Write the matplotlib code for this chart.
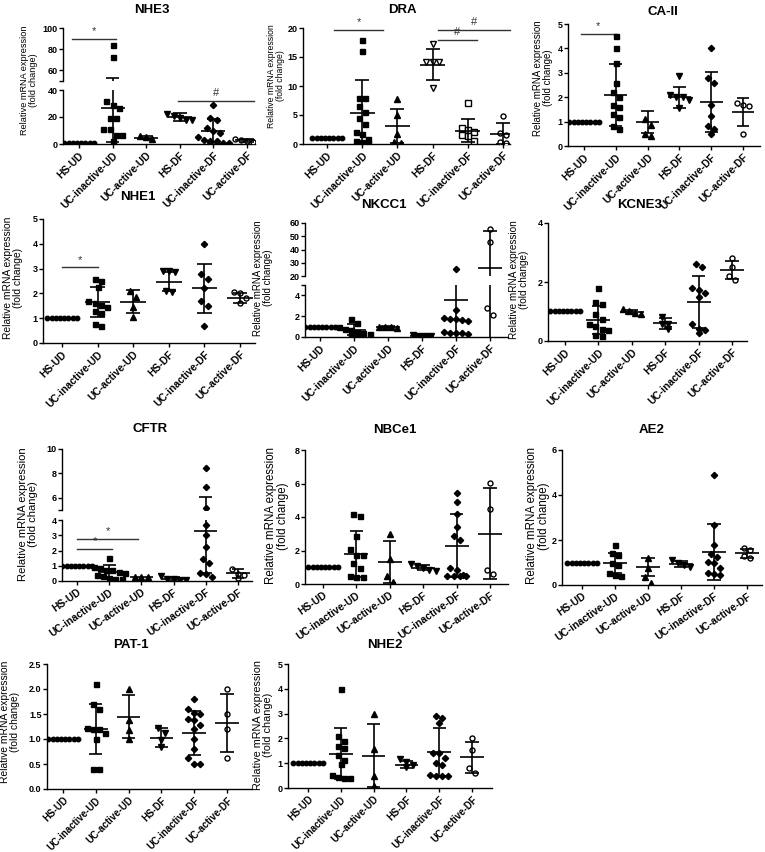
import numpy as np
import matplotlib.pyplot as plt

plt.rcParams['font.family'] = ['Liberation Sans', 'DejaVu Sans']

groups = ['HS-UD', 'UC-inactive-UD', 'UC-active-UD', 'HS-DF', 'UC-inactive-DF', 'UC-active-DF']

# --- data ---
nhe3_pts = [[1] * 8,
            [84, 73, 32, 29, 27, 19, 19, 11, 11, 7, 7, 2],
            [6, 5, 3.5],
            [22, 19.5, 18, 18, 21],
            [29, 19, 18, 12, 10, 8, 5, 3, 2, 1, 1, 2],
            [4, 3, 2.5, 1.5, 1]]
nhe3_mean = [1, 27, 4.8, 20, 9.5, 2.8]
nhe3_sd = [0, 25.7, 1.3, 3, 9, 1.2]

dra_pts = [[1] * 8,
           [18, 16, 8, 8, 6.5, 5.5, 4.5, 3.5, 2, 1.7, 0.8, 0.5, 0.3, 0.2],
           [7.8, 5, 1.7, 0.2, 0.3],
           [17.2, 14.2, 14.2, 14.2, 9.7],
           [7.1, 2.8, 2.4, 2.0, 1.5, 1.3, 0.5],
           [4.8, 1.9, 1.6, 0.3, 0.2]]
dra_mean = [1, 5.4, 3.1, 13.7, 2.3, 1.8]
dra_sd = [0, 5.6, 3.0, 2.6, 2.0, 1.8]

caii_pts = [[1] * 8,
            [4.5, 4.0, 3.4, 2.6, 2.2, 2.0, 1.7, 1.6, 1.3, 1.2, 0.8, 0.7],
            [1.1, 0.85, 0.5, 0.4],
            [2.85, 2.1, 2.0, 2.0, 1.9, 1.55],
            [4.0, 2.8, 2.6, 1.7, 1.25, 0.8, 0.7, 0.5],
            [1.7, 1.65, 1.75, 0.5]]
caii_mean = [1, 2.1, 1.0, 2.0, 1.8, 1.38]
caii_sd = [0, 1.27, 0.45, 0.43, 1.22, 0.58]

nhe1_pts = [[1] * 8,
            [2.6, 2.5, 2.25, 1.7, 1.6, 1.55, 1.45, 1.3, 1.2, 0.75, 0.68],
            [2.1, 1.85, 1.45, 1.05],
            [2.9, 2.9, 2.85, 2.1, 2.05],
            [4.0, 2.8, 2.6, 2.2, 1.7, 1.5, 0.7],
            [2.05, 2.0, 1.8, 1.6]]
nhe1_mean = [1, 1.65, 1.67, 2.47, 2.2, 1.83]
nhe1_sd = [0, 0.62, 0.47, 0.38, 1.0, 0.2]

nkcc1_pts = [[1] * 8,
             [1.75, 1.3, 0.95, 0.8, 0.65, 0.5, 0.4, 0.3, 0.15, 0.1],
             [1.0, 0.95, 0.85, 1.0],
             [0.1, 0.05, 0.15, 0.08],
             [25.3, 2.6, 1.8, 1.7, 1.6, 1.7, 1.5, 0.5, 0.4, 0.35, 0.4, 0.3],
             [55.4, 45.3, 2.15, 2.8]]
nkcc1_mean = [1, 0.72, 0.95, 0.1, 3.6, 26.3]
nkcc1_sd = [0, 0.5, 0.07, 0.05, 6.8, 27.9]

kcne3_pts = [[1] * 8,
             [1.8, 1.32, 1.27, 0.93, 0.76, 0.59, 0.5, 0.42, 0.36, 0.19, 0.16],
             [1.07, 1.0, 0.95, 0.9],
             [0.81, 0.59, 0.56, 0.42],
             [2.6, 2.5, 1.8, 1.72, 1.63, 1.5, 0.59, 0.42, 0.38, 0.27],
             [2.82, 2.5, 2.22, 2.08]]
kcne3_mean = [1, 0.7, 0.98, 0.6, 1.32, 2.4]
kcne3_sd = [0, 0.47, 0.07, 0.18, 0.87, 0.31]

cftr_pts = [[1] * 8,
            [1.5, 0.95, 0.85, 0.75, 0.7, 0.6, 0.5, 0.4, 0.3, 0.2, 0.15, 0.1],
            [0.28, 0.28, 0.28],
            [0.3, 0.15, 0.05, 0.1, 0.08],
            [8.46, 6.92, 5.2, 3.69, 3.0, 2.25, 1.42, 1.16, 0.5, 0.28, 0.46],
            [0.77, 0.45, 0.4, 0.22]]
cftr_mean = [1, 0.57, 0.28, 0.13, 3.28, 0.5]
cftr_sd = [0, 0.45, 0.0, 0.15, 2.76, 0.28]

nbce1_pts = [[1] * 8,
             [4.19, 4.03, 2.84, 2.1, 1.75, 1.75, 1.25, 0.95, 0.46, 0.4, 0.4],
             [3.0, 1.49, 0.46, 0.1],
             [1.2, 1.05, 0.95, 0.85, 0.8],
             [5.42, 4.88, 4.19, 3.39, 2.84, 2.6, 0.95, 0.85, 0.55, 0.5, 0.45, 0.45, 0.5],
             [6.01, 4.48, 0.62, 0.81]]
nbce1_mean = [1, 1.8, 1.31, 0.98, 2.28, 3.0]
nbce1_sd = [0, 1.37, 1.27, 0.15, 1.89, 2.71]

ae2_pts = [[1] * 8,
           [1.78, 1.41, 1.33, 1.0, 0.89, 0.52, 0.44, 0.4],
           [1.19, 0.74, 0.37, 0.1],
           [1.11, 1.0, 0.89, 0.81],
           [4.89, 2.67, 1.78, 1.38, 1.26, 1.01, 1.0, 0.74, 0.52, 0.47, 0.44],
           [1.63, 1.55, 1.29, 1.19]]
ae2_mean = [1, 0.99, 0.8, 0.93, 1.47, 1.41]
ae2_sd = [0, 0.45, 0.41, 0.12, 1.24, 0.19]

pat1_pts = [[1] * 8,
            [2.1, 1.7, 1.6, 1.22, 1.2, 1.2, 1.12, 1.0, 0.4, 0.4],
            [2.0, 1.38, 1.18, 1.0],
            [1.22, 1.13, 0.98, 0.84],
            [1.8, 1.6, 1.52, 1.5, 1.4, 1.38, 1.28, 1.2, 1.0, 0.8, 0.62, 0.5, 0.5],
            [2.0, 1.5, 1.2, 0.62]]
pat1_mean = [1, 1.2, 1.45, 1.03, 1.13, 1.33]
pat1_sd = [0, 0.5, 0.43, 0.19, 0.44, 0.58]

nhe2_pts = [[1] * 8,
            [3.98, 2.08, 1.88, 1.68, 1.6, 1.34, 1.11, 0.98, 0.54, 0.44, 0.4, 0.4],
            [2.99, 1.57, 0.5, 0.07],
            [1.17, 1.03, 0.94, 0.83],
            [2.91, 2.82, 2.61, 1.41, 1.41, 1.21, 1.0, 0.94, 0.54, 0.5, 0.5, 0.5],
            [2.01, 1.54, 0.8, 0.6]]
nhe2_mean = [1, 1.38, 1.31, 0.94, 1.45, 1.23]
nhe2_sd = [0, 1.03, 1.26, 0.15, 0.96, 0.64]

# significance bars: (symbol, x from, x to, y)
nhe3_sig = [('*', -0.2, 1.1, 90), ('#', 2.95, 5.2, 32)]
dra_sig = [('*', 0.2, 1.6, 19.7), ('#', 3.15, 4.26, 17.9), ('#', 3.15, 5.2, 19.7)]
caii_sig = [('*', -0.1, 1.0, 4.6)]
nhe1_sig = [('*', 0, 1.0, 3.05)]
cftr_sig = [('*', 0, 1.1, 2.08), ('*', 0, 1.9, 2.78)]

# --- layout in pixels ---
W, H = 765, 852
std_marks = [('o', True), ('s', True), ('^', True), ('v', True), ('D', True), ('o', False)]
dra_marks = [('o', True), ('s', True), ('^', True), ('v', False), ('s', False), ('o', False)]

panels = [
    # title, pts, mean, sd, sig, markers, left, right, c0, c5,
    # segments (ymin, ymax, top, bottom, ticks, labels), title xy, ylabel (x, y, size),
    # xlabel rotation, xlabel size
    ('NHE3', nhe3_pts, nhe3_mean, nhe3_sd, nhe3_sig, std_marks, 63, 255, 79, 247,
     [(0, 40, 90, 144, [0, 20, 40], ['0', '20', '40']),
      (50, 100, 28, 81, [50, 60, 80, 100], ['', '60', '80', '100'])], (152, 10), (29, 80, 6.6), 45, 7.4),
    ('DRA', dra_pts, dra_mean, dra_sd, dra_sig, dra_marks, 303, 510, 327, 503,
     [(0, 20, 28, 144, [0, 5, 10, 15, 20], None)], (402, 10), (276, 76, 6.2), 45, 7.4),
    ('CA-II', caii_pts, caii_mean, caii_sd, caii_sig, std_marks, 568, 760, 584, 743,
     [(0, 5, 24, 146, [0, 1, 2, 3, 4, 5], None)], (663, 12), (543, 78, 7.0), 45, 7.4),
    ('NHE1', nhe1_pts, nhe1_mean, nhe1_sd, nhe1_sig, std_marks, 43, 255, 62, 240,
     [(0, 5, 219, 343, [0, 1, 2, 3, 4, 5], None)], (138, 197), (13, 278, 7.4), 45, 7.4),
    ('NKCC1', nkcc1_pts, nkcc1_mean, nkcc1_sd, [], std_marks, 305, 508, 320, 490,
     [(0, 5, 285, 337, [0, 2, 4, 5], ['0', '2', '4', '']),
      (20, 60, 223, 276, [20, 30, 40, 50, 60], None)], (384, 205), (263, 278, 7.0), 45, 7.4),
    ('KCNE3', kcne3_pts, kcne3_mean, kcne3_sd, [], std_marks, 548, 747, 565, 732,
     [(0, 4, 223, 341, [0, 2, 4], None)], (640, 205), (519, 280, 7.2), 45, 7.4),
    ('CFTR', cftr_pts, cftr_mean, cftr_sd, cftr_sig, std_marks, 62, 252, 77, 238,
     [(0, 4, 520, 581, [0, 1, 2, 3, 4], None),
      (5, 10, 449, 510, [5, 6, 8, 10], ['', '6', '8', '10'])], (150, 429), (28, 514, 8.1), 35, 7.4),
    ('NBCe1', nbce1_pts, nbce1_mean, nbce1_sd, [], std_marks, 305, 508, 323, 490,
     [(0, 8, 450, 584, [0, 2, 4, 6, 8], None)], (395, 430), (277, 516, 8.3), 35, 7.4),
    ('AE2', ae2_pts, ae2_mean, ae2_sd, [], std_marks, 562, 762, 582, 747,
     [(0, 6, 450, 585, [0, 2, 4, 6], None)], (652, 430), (538, 516, 8.3), 35, 7.4),
    ('PAT-1', pat1_pts, pat1_mean, pat1_sd, [], std_marks, 47, 252, 63, 227,
     [(0, 2.5, 664, 789, [0, 0.5, 1.0, 1.5, 2.0, 2.5],
       ['0.0', '0.5', '1.0', '1.5', '2.0', '2.5'])], (131, 645), (10, 722, 7.4), 45, 6.9),
    ('NHE2', nhe2_pts, nhe2_mean, nhe2_sd, [], std_marks, 288, 492, 308, 472,
     [(0, 5, 664, 788, [0, 1, 2, 3, 4, 5], None)], (385, 645), (263, 725, 7.8), 45, 6.9),
]


def val_px(v, segs):
    for (y0, y1, top, bot, _, _) in segs:
        if y0 <= v <= y1:
            return bot - (v - y0) / (y1 - y0) * (bot - top)
    y0, y1, top, bot = segs[0][:4]
    return bot - (v - y0) / (y1 - y0) * (bot - top)


def swarm(vals, segs, d, thr):
    # spread points that sit at nearly the same height, centred on the column
    ys = np.array([val_px(v, segs) for v in vals])
    order = np.argsort(ys)
    offs = np.zeros(len(vals))
    rows, cur = [], [order[0]]
    for i in order[1:]:
        if ys[i] - ys[cur[0]] < thr:
            cur.append(i)
        else:
            rows.append(cur)
            cur = [i]
    rows.append(cur)
    for r in rows:
        n = len(r)
        for k, i in enumerate(r):
            offs[i] = (k - (n - 1) / 2) * d
    return offs


fig = plt.figure(figsize=(W / 100, H / 100), dpi=100)

for (title, pts, mean, sd, sig, marks, left, right, c0, c5, segs, txy, ylab, rot, xfs) in panels:
    sp = (c5 - c0) / 5.0
    xlim = ((left - c0) / sp, (right - c0) / sp)
    axes = []
    for k, (y0, y1, top, bot, ticks, labels) in enumerate(segs):
        ax = fig.add_axes([left / W, 1 - bot / H, (right - left) / W, (bot - top) / H])
        ax.set_xlim(*xlim)
        ax.set_ylim(y0, y1)
        ax.patch.set_alpha(0)
        for s in ['top', 'right']:
            ax.spines[s].set_visible(False)
        ax.spines['left'].set_linewidth(1.0)
        ax.spines['bottom'].set_linewidth(1.0)
        ax.set_yticks(ticks)
        if labels is not None:
            ax.set_yticklabels(labels)
        ax.tick_params(axis='y', length=3, width=1.0, labelsize=6.5, pad=1)
        for lbl in ax.get_yticklabels():
            lbl.set_fontweight('bold')
        if k == 0:
            ax.set_xticks(range(6))
            ax.set_xticklabels(groups, rotation=rot, ha='right', rotation_mode='anchor',
                               fontsize=xfs, fontweight='bold')
            ax.tick_params(axis='x', length=3, width=1.0, pad=1.5)
        else:
            ax.spines['bottom'].set_visible(False)
            ax.set_xticks([])
        axes.append(ax)

    for g in range(6):
        m, filled = marks[g]
        if m == 'o' and filled:
            offs = swarm(pts[g], segs, 4.2, 3.8)
        else:
            offs = swarm(pts[g], segs, 6.2, 7.0)
        xs = g + offs / sp
        ms = {'o': 3.2, 's': 3.6, '^': 4.2, 'v': 4.2, 'D': 3.2}[m]
        if not filled:
            ms += 0.4
        for ax in axes:
            ax.plot(xs, pts[g], linestyle='none', marker=m, ms=ms,
                    mfc='black' if filled else 'white', mec='black', mew=1.0, zorder=3)
            ax.hlines(mean[g], g - 0.36, g + 0.36, color='black', lw=1.2, zorder=4)
            if sd[g] > 0:
                lo, hi = mean[g] - sd[g], mean[g] + sd[g]
                ax.vlines(g, lo, hi, color='black', lw=1.2, zorder=4)
                ax.hlines([lo, hi], g - 0.2, g + 0.2, color='black', lw=1.2, zorder=4)

    for (sym, xa, xb, y) in sig:
        ax = axes[0]
        for a, seg in zip(axes, segs):
            if seg[0] <= y <= seg[1]:
                ax = a
        ax.plot([xa, xb], [y, y], color='#333333', lw=1.0, clip_on=False)
        ax.annotate(sym, xy=((xa + xb) / 2, y), xytext=(0, 2), textcoords='offset points',
                    ha='center', va='bottom', fontsize=8, color='#333333',
                    annotation_clip=False)

    fig.text(txy[0] / W, 1 - txy[1] / H, title, ha='center', va='center',
             fontsize=9.5, fontweight='bold')
    fig.text(ylab[0] / W, 1 - ylab[1] / H, 'Relative mRNA expression\n(fold change)',
             rotation=90, ha='center', va='center', fontsize=ylab[2],
             multialignment='center', linespacing=1.1)

fig.savefig('out.png', dpi=100)
